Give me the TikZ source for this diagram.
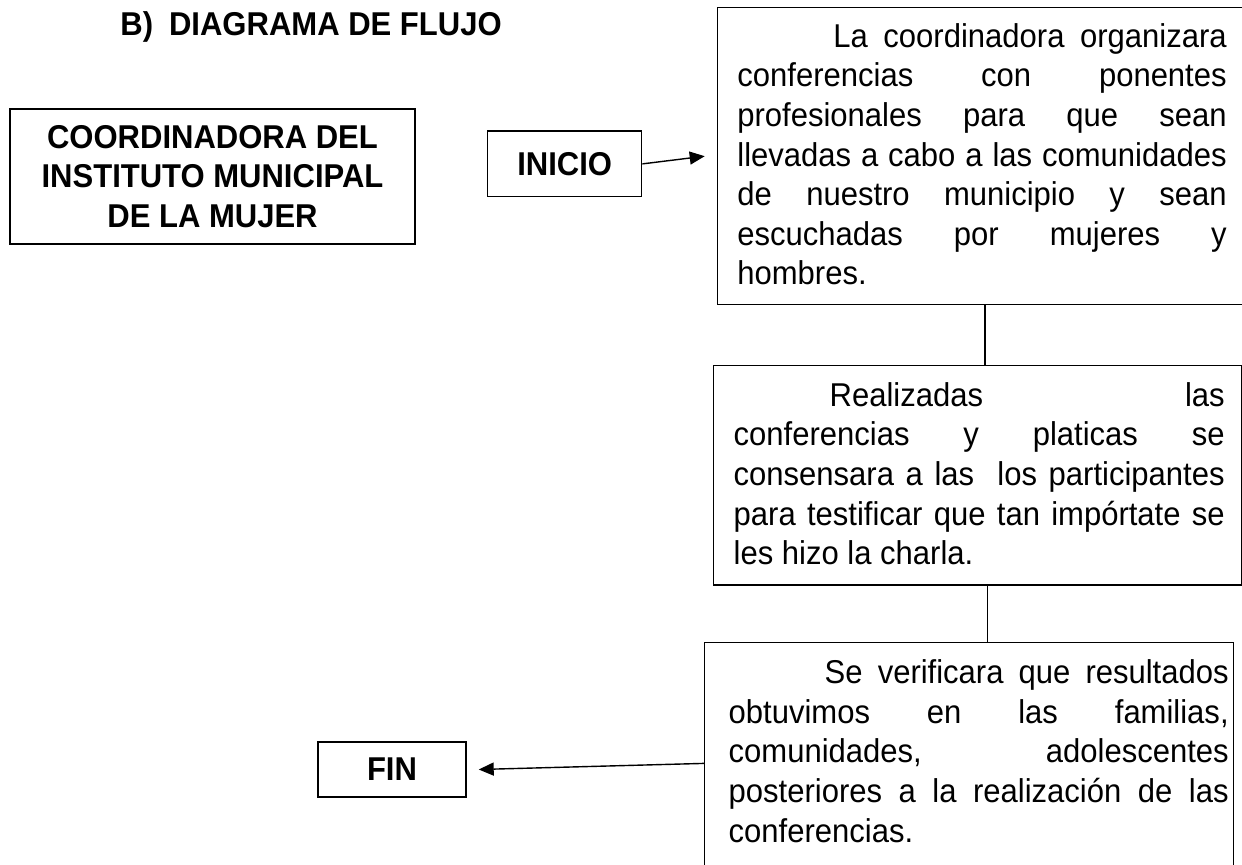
\documentclass[tikz,border=0pt]{standalone}
\usepackage{fontspec}
\setmainfont{Liberation Sans}[FakeStretch=0.94]
\usetikzlibrary{arrows.meta,positioning}

% justified paragraph inside a box: left skip, right skip, top gap, bottom gap, text
\newcommand{\boxpar}[5]{\noindent\leftskip=#1\relax\rightskip=#2\relax
  \tolerance=10000\hbadness=10000\relax
  \rule{0pt}{#3}\hspace*{48pt}#5\rule[-#4]{0pt}{#4}\par}

\begin{document}
\begin{tikzpicture}[x=0.5pt, y=-0.5pt, line width=0.7pt,
                    every node/.style={font=\fontsize{16.5pt}{19.8pt}\selectfont},
                    main node/.style={rectangle,draw,inner sep=0pt,align=center,
                                      font=\fontsize{16.5pt}{19.8pt}\selectfont\bfseries},
                    proc node/.style={rectangle,draw,inner sep=0pt,anchor=north west,align=justify},
                    flecha/.style={-{Triangle[length=7.5pt,width=6.5pt]}}]
  \useasboundingbox (0,0) rectangle (1242,865);
  \node[anchor=base west,font=\fontsize{16.5pt}{19.8pt}\selectfont\bfseries] (title) at (113,36)
    {B)\hspace{8pt}DIAGRAMA DE FLUJO};
  \node[main node,minimum width=202.5pt,minimum height=67.5pt] (coord) at (212.5,176.5)
    {COORDINADORA DEL\\INSTITUTO MUNICIPAL\\DE LA MUJER};
  \node[main node,minimum width=77pt,minimum height=32.8pt] (inicio) at (564.7,163.9) {INICIO};
  \node[main node,minimum width=74pt,minimum height=27.5pt] (fin) at (392,769.5) {FIN};
  \node[proc node,text width=264.65pt] (proc1) at (716.7,7)
    {\boxpar{10pt}{10pt}{19.85pt}{9.85pt}{La coordinadora organizara\linebreak
     conferencias con ponentes\linebreak
     profesionales para que sean\linebreak
     llevadas a cabo a las comunidades\linebreak
     de nuestro municipio y sean\linebreak
     escuchadas por mujeres y\linebreak
     hombres.}};
  \node[proc node,text width=264pt] (proc2) at (713,365)
    {\boxpar{10pt}{8.5pt}{20.35pt}{10.2pt}{Realizadas las\linebreak
     conferencias y platicas se\linebreak
     consensara a las\ \ los participantes\linebreak
     para testificar que tan impórtate se\linebreak
     les hizo la charla.}};
  \node[proc node,text width=264.5pt] (proc3) at (704,642)
    {\boxpar{12pt}{2.5pt}{20.5pt}{21pt}{Se verificara que resultados\linebreak
     obtuvimos en las familias,\linebreak
     comunidades, adolescentes\linebreak
     posteriores a la realización de las\linebreak
     conferencias.}};
  \coordinate (c1) at ([xshift=1.5pt]proc1.south);
  \coordinate (c2) at ([xshift=5pt]proc2.south);
  \path[every edge/.style={draw,line width=0.7pt}]
    (inicio.east) edge[flecha] ([xshift=-6pt]proc1.west)
    (c1) edge (c1 |- proc2.north)
    (c2) edge (c2 |- proc3.north)
    (proc3.west) edge[flecha] ([xshift=6pt]fin.east);
\end{tikzpicture}
\end{document}
